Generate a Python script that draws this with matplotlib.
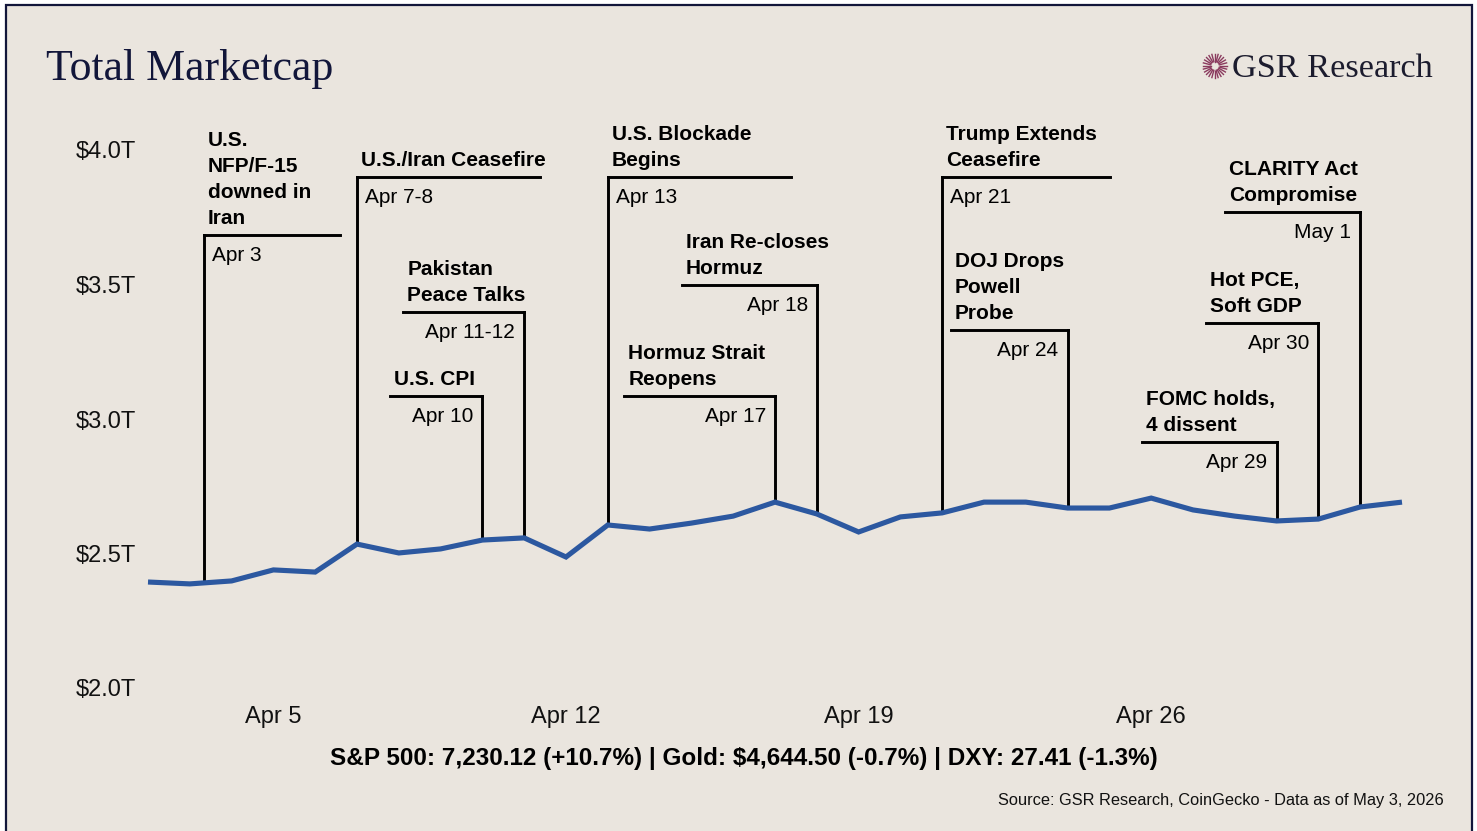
import numpy as np
import pandas as pd
import matplotlib
matplotlib.use("Agg")
import matplotlib.pyplot as plt
import matplotlib.dates as mdates
from matplotlib.patches import Rectangle
from matplotlib.lines import Line2D

# ---------------- data ----------------
dates = pd.date_range("2026-04-02", "2026-05-02", freq="D")
marketcap_t = [2.394, 2.387, 2.398, 2.439, 2.431, 2.535, 2.502, 2.517, 2.550, 2.558,
               2.487, 2.606, 2.591, 2.613, 2.639, 2.691, 2.647, 2.580, 2.636, 2.651,
               2.691, 2.691, 2.669, 2.669, 2.706, 2.662, 2.639, 2.621, 2.628, 2.673,
               2.691]

event_dates = ["2026-04-03 08:00", "2026-04-07", "2026-04-11", "2026-04-10",
               "2026-04-13", "2026-04-18", "2026-04-17", "2026-04-21",
               "2026-04-24", "2026-04-29", "2026-04-30", "2026-05-01"]
event_titles = ["U.S.\nNFP/F-15\ndowned in\nIran", "U.S./Iran Ceasefire",
                "Pakistan\nPeace Talks", "U.S. CPI", "U.S. Blockade\nBegins",
                "Iran Re-closes\nHormuz", "Hormuz Strait\nReopens",
                "Trump Extends\nCeasefire", "DOJ Drops\nPowell\nProbe",
                "FOMC holds,\n4 dissent", "Hot PCE,\nSoft GDP",
                "CLARITY Act\nCompromise"]
event_labels = ["Apr 3", "Apr 7-8", "Apr 11-12", "Apr 10", "Apr 13", "Apr 18",
                "Apr 17", "Apr 21", "Apr 24", "Apr 29", "Apr 30", "May 1"]

yticks = [2.0, 2.5, 3.0, 3.5, 4.0]
ytick_labels = ["$2.0T", "$2.5T", "$3.0T", "$3.5T", "$4.0T"]
xtick_dates = ["2026-04-05", "2026-04-12", "2026-04-19", "2026-04-26"]
xtick_labels = ["Apr 5", "Apr 12", "Apr 19", "Apr 26"]

title = "Total Marketcap"
brand = "GSR Research"
footer = "S&P 500: 7,230.12 (+10.7%) | Gold: $4,644.50 (-0.7%) | DXY: 27.41 (-1.3%)"
source = "Source: GSR Research, CoinGecko - Data as of May 3, 2026"

# ---------------- layout (annotation geometry) ----------------
event_levels = [3.684, 3.900, 3.398, 3.086, 3.900, 3.498, 3.086, 3.900,
                3.331, 2.914, 3.357, 3.770]
event_extent = [3.25, 4.38, 2.9, 2.22, 4.38, 3.23, 3.61, 4.02, 2.8, 3.23, 2.7, 3.23]
event_side = ["R", "R", "L", "L", "R", "L", "L", "R", "L", "L", "L", "L"]

# ---------------- style ----------------
W, H = 1477, 831
BG = "#EAE5DE"
NAVY = "#12163a"
LINE = "#2C58A0"
FONT = "Liberation Sans"
SERIF = "Liberation Serif"

fig = plt.figure(figsize=(W / 100, H / 100), dpi=100, facecolor="white")
fig.patches.append(Rectangle((6 / W, -0.01), (1472 - 6) / W, (826 + 8) / H,
                             transform=fig.transFigure, facecolor=BG,
                             edgecolor=NAVY, linewidth=1.6, zorder=-10))

ax = fig.add_axes([148 / W, (H - 688) / H, (1402 - 148) / W, 538 / H])
ax.set_facecolor("none")

xnum = mdates.date2num(dates)
ax.plot(xnum, marketcap_t, color=LINE, lw=3.7, solid_joinstyle="miter",
        solid_capstyle="butt", clip_on=False, zorder=3)

ax.set_xlim(xnum[0], xnum[-1])
ax.set_ylim(2.0, 4.0)
ax.set_yticks(yticks)
ax.set_yticklabels(ytick_labels)
ax.set_xticks(mdates.date2num(pd.to_datetime(xtick_dates)))
ax.set_xticklabels(xtick_labels)
for s in ax.spines.values():
    s.set_visible(False)
ax.tick_params(axis="both", length=0, labelsize=17, labelcolor="#111111")
ax.tick_params(axis="y", pad=8.6)
ax.tick_params(axis="x", pad=13)
for lab in ax.get_xticklabels() + ax.get_yticklabels():
    lab.set_fontfamily(FONT)

# ---------------- annotations ----------------
for d, t, lab, lev, ext, side in zip(event_dates, event_titles, event_labels,
                                     event_levels, event_extent, event_side):
    xe = mdates.date2num(pd.Timestamp(d))
    yb = np.interp(xe, xnum, marketcap_t)
    ax.add_line(Line2D([xe, xe], [yb, lev], color="black", lw=2.1,
                       clip_on=False, zorder=2, solid_capstyle="projecting"))
    x2 = xe + ext if side == "R" else xe - ext
    ax.add_line(Line2D([min(xe, x2), max(xe, x2)], [lev, lev], color="black",
                       lw=2.1, clip_on=False, zorder=2, solid_capstyle="projecting"))
    left = min(xe, x2)
    ax.annotate(t, xy=(left, lev), xytext=(3.0, 5), textcoords="offset points",
                ha="left", va="bottom", fontsize=15, fontweight="bold",
                family=FONT, color="black", linespacing=1.47,
                annotation_clip=False)
    if side == "R":
        ax.annotate(lab, xy=(xe, lev), xytext=(5.8, -8), textcoords="offset points",
                    ha="left", va="top", fontsize=15, family=FONT, color="black",
                    annotation_clip=False)
    else:
        ax.annotate(lab, xy=(xe, lev), xytext=(-6.5, -8), textcoords="offset points",
                    ha="right", va="top", fontsize=15, family=FONT, color="black",
                    annotation_clip=False)

# ---------------- header ----------------
fig.text(46 / W, (H - 80) / H, title, family=SERIF, fontsize=31.6, color=NAVY,
         ha="left", va="baseline")
fig.text(1232 / W, (H - 77) / H, brand, family=SERIF, fontsize=24.7, color="#1c1c2e",
         ha="left", va="baseline")
# sunburst logo mark
cx, cy = 1215, 66
for k in range(24):
    a = 2 * np.pi * k / 24
    r0, r1 = 4.5, 12.0
    fig.add_artist(Line2D([(cx + r0 * np.cos(a)) / W, (cx + r1 * np.cos(a)) / W],
                          [(H - cy - r0 * np.sin(a)) / H, (H - cy - r1 * np.sin(a)) / H],
                          transform=fig.transFigure, color="#8a3a5e", lw=1.0))

# ---------------- footer ----------------
fig.text(744 / W, (H - 758) / H, footer, family=FONT, fontweight="bold",
         fontsize=17.5, color="black", ha="center", va="center")
fig.text(1444 / W, (H - 800) / H, source, family=FONT, fontsize=11.8,
         color="#111111", ha="right", va="center")

fig.savefig("out.png", dpi=100, facecolor=fig.get_facecolor())
